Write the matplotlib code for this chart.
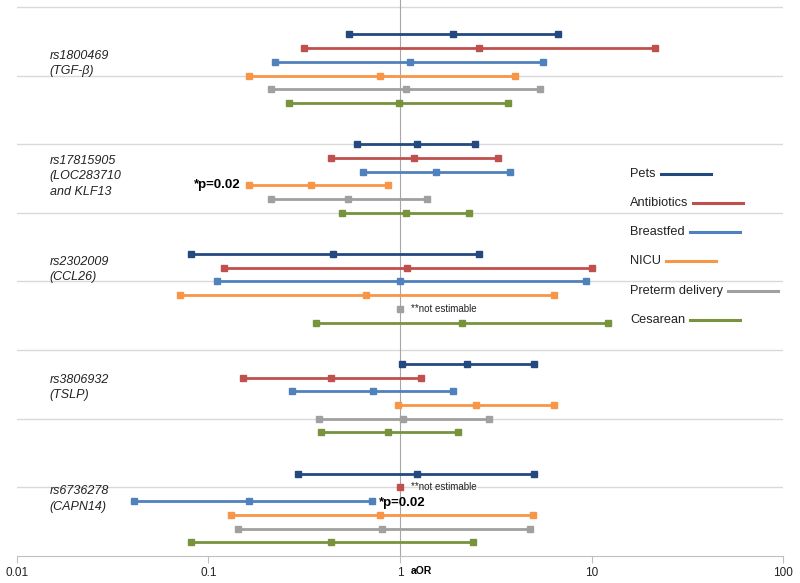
import numpy as np
import matplotlib

matplotlib.use("Agg")
import matplotlib.pyplot as plt
from matplotlib.lines import Line2D
from matplotlib.transforms import blended_transform_factory

plt.rcParams["font.family"] = ["Liberation Sans", "DejaVu Sans"]

# --- data -------------------------------------------------------------------
snp_labels = [
    "rs1800469\n(TGF-\u03b2)",
    "rs17815905\n(LOC283710\nand KLF13",
    "rs2302009\n(CCL26)",
    "rs3806932\n(TSLP)",
    "rs6736278\n(CAPN14)",
]
series_names = ["Pets", "Antibiotics", "Breastfed", "NICU", "Preterm delivery", "Cesarean"]
series_colors = ["#24497f", "#c0504d", "#4f81bd", "#f79646", "#a0a0a0", "#77933c"]

nan = np.nan
pets_lo = [0.54, 0.60, 0.081, 1.02, 0.295]
pets_or = [1.90, 1.22, 0.448, 2.25, 1.22]
pets_hi = [6.7, 2.46, 2.57, 4.99, 5.0]

abx_lo = [0.315, 0.436, 0.121, 0.152, nan]
abx_or = [2.59, 1.19, 1.09, 0.437, 1.0]
abx_hi = [21.5, 3.23, 10.0, 1.28, nan]

bf_lo = [0.224, 0.64, 0.111, 0.274, 0.041]
bf_or = [1.13, 1.54, 1.0, 0.72, 0.163]
bf_hi = [5.6, 3.76, 9.33, 1.88, 0.718]

nicu_lo = [0.163, 0.163, 0.071, 0.98, 0.132]
nicu_or = [0.79, 0.344, 0.667, 2.49, 0.79]
nicu_hi = [3.98, 0.863, 6.38, 6.34, 4.93]

pre_lo = [0.213, 0.213, nan, 0.377, 0.142]
pre_or = [1.07, 0.538, 1.0, 1.04, 0.81]
pre_hi = [5.4, 1.38, nan, 2.92, 4.78]

ces_lo = [0.264, 0.497, 0.366, 0.386, 0.081]
ces_or = [0.99, 1.08, 2.10, 0.87, 0.437]
ces_hi = [3.67, 2.29, 12.1, 2.0, 2.39]

lows = [pets_lo, abx_lo, bf_lo, nicu_lo, pre_lo, ces_lo]
ors = [pets_or, abx_or, bf_or, nicu_or, pre_or, ces_or]
highs = [pets_hi, abx_hi, bf_hi, nicu_hi, pre_hi, ces_hi]

# significant results: (snp index, series index)
sig_marks = [(1, 3), (4, 2)]
sig_text = "*p=0.02"
x_ticks = [0.01, 0.1, 1, 10, 100]
x_tick_labels = ["0.01", "0.1", "1", "10", "100"]

# --- layout -----------------------------------------------------------------
group_start = [0.4, 2.0, 3.6, 5.2, 6.8]
row_step = 0.2
label_y = [0.83, 2.47, 3.83, 5.55, 7.17]

W, H = 800, 583
fig = plt.figure(figsize=(W / 100, H / 100), dpi=100)
ax = fig.add_axes([16.7 / W, 1 - 556 / H, (783.3 - 16.7) / W, 556 / H])
ax.set_xscale("log")
ax.set_xlim(0.01, 100)
ax.set_ylim(8, -0.1)

for gy in range(8):
    ax.axhline(gy, color="#d9d9d9", lw=1.0, zorder=0)
ax.axvline(1, color="#a6a6a6", lw=0.8, zorder=1)

for gi in range(len(snp_labels)):
    for si in range(len(series_names)):
        y = group_start[gi] + si * row_step
        lo, mid, hi = lows[si][gi], ors[si][gi], highs[si][gi]
        c = series_colors[si]
        if np.isnan(lo):
            ax.plot([mid], [y], marker="s", ms=4.8, color=c, zorder=3)
            ax.annotate("**not estimable", (mid, y), xytext=(8, 0),
                        textcoords="offset points", fontsize=7,
                        va="center", color="#222222")
        else:
            ax.plot([lo, mid, hi], [y, y, y], color=c, lw=2.0, marker="s",
                    ms=4.8, zorder=3, solid_capstyle="butt")
        if (gi, si) in sig_marks:
            if gi == 1:
                ax.annotate(sig_text, (lo, y), xytext=(-6, 0),
                            textcoords="offset points", fontsize=9.5,
                            fontweight="bold", ha="right", va="center")
            else:
                ax.annotate(sig_text, (hi, y), xytext=(5, -1.5),
                            textcoords="offset points", fontsize=9.5,
                            fontweight="bold", ha="left", va="center")

trans = blended_transform_factory(ax.transAxes, ax.transData)
for gi, lab in enumerate(snp_labels):
    ax.text(0.043, label_y[gi], lab, transform=trans, fontsize=9,
            style="italic", va="center", ha="left", color="#222222",
            linespacing=1.35)

# axes styling
for side in ["left", "right", "top"]:
    ax.spines[side].set_visible(False)
ax.spines["bottom"].set_color("#bfbfbf")
ax.set_yticks([])
ax.set_xticks(x_ticks)
ax.set_xticklabels(x_tick_labels)
ax.xaxis.set_minor_locator(matplotlib.ticker.NullLocator())
ax.tick_params(axis="x", direction="out", length=5, color="#bfbfbf",
               labelsize=8.5, labelcolor="#222222", pad=3)
ax.annotate("aOR", (1, 8), xytext=(7.5, -10.5), textcoords="offset points",
            xycoords=("data", "data"), fontsize=7.5, fontweight="bold",
            ha="left", va="center", annotation_clip=False)

# legend drawn by hand: label followed by a coloured segment
renderer = fig.canvas.get_renderer()
leg_x = 630
leg_y = [174, 203, 232, 261, 291, 320]
for name, c, py in zip(series_names, series_colors, leg_y):
    t = fig.text(leg_x / W, 1 - py / H, name, fontsize=9.2, va="center",
                 ha="left", color="#222222")
    bb = t.get_window_extent(renderer=renderer)
    x0 = bb.x1 + 5
    fig.add_artist(Line2D([x0 / W, (x0 + 50) / W], [1 - py / H, 1 - py / H],
                          transform=fig.transFigure, color=c, lw=2.2))

fig.savefig("out.png", dpi=100)
